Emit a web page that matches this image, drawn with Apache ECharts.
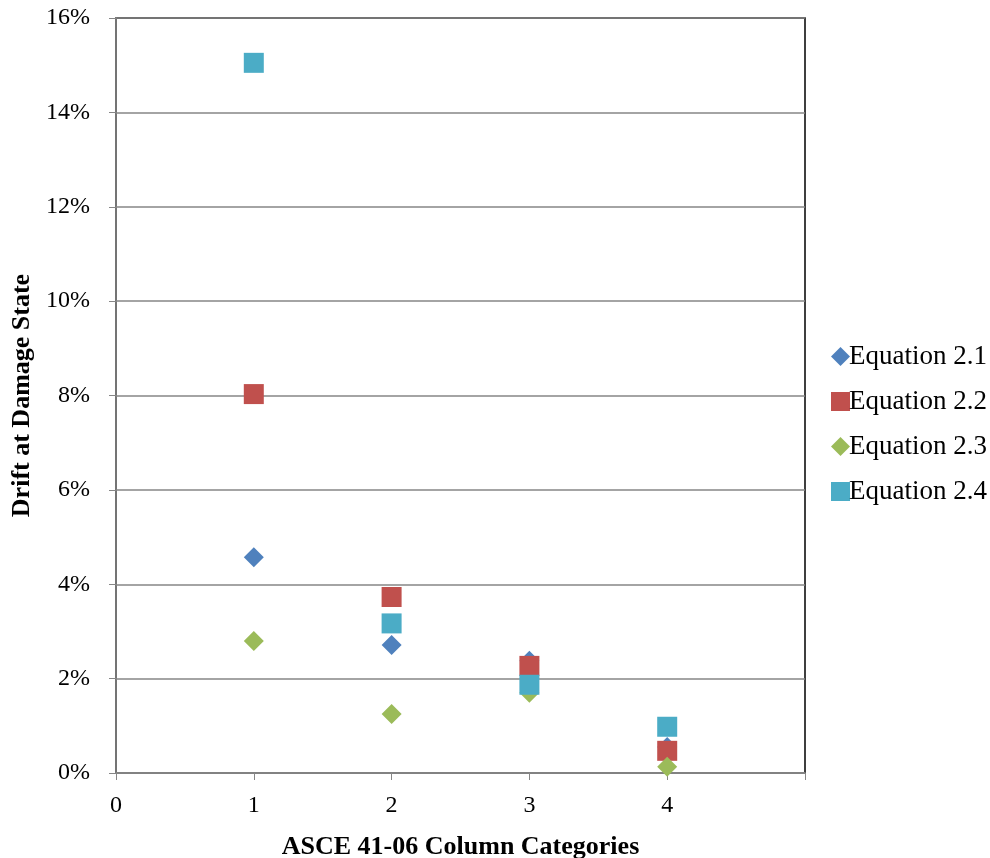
<!DOCTYPE html>
<html><head><meta charset="utf-8">
<script src="https://cdn.jsdelivr.net/npm/echarts@6/dist/echarts.min.js"></script>
<style>html,body{margin:0;padding:0;background:#fff}#c{width:990px;height:858px}</style>
</head><body><div id="c"></div>
<script>
const categories = [1, 2, 3, 4];
const eq21 = [4.57, 2.71, 2.38, 0.55];
const eq22 = [8.03, 3.73, 2.27, 0.47];
const eq23 = [2.80, 1.25, 1.70, 0.13];
const eq24 = [15.05, 3.17, 1.87, 0.98];
const seriesNames = ['Equation 2.1', 'Equation 2.2', 'Equation 2.3', 'Equation 2.4'];
const colors = ['#4F81BD', '#C0504D', '#9BBB59', '#4BACC6'];
const symbols = ['diamond', 'rect', 'diamond', 'rect'];
const allData = [eq21, eq22, eq23, eq24];

const font = '"Liberation Serif", "Times New Roman", serif';
const chart = echarts.init(document.getElementById('c'));
chart.setOption({
  animation: false,
  textStyle: { fontFamily: font },
  grid: { left: 116, right: 185, top: 18, bottom: 85, containLabel: false, outerBoundsMode: 'none',
    show: true, borderColor: '#000', borderWidth: 1.5 },
  legend: {
    orient: 'vertical', left: 826, top: 338, itemGap: 18, itemWidth: 19, itemHeight: 19,
    textStyle: { fontFamily: font, fontSize: 27, color: '#000', padding: [0, 0, 0, -6] },
    data: seriesNames.map((n, i) => ({ name: n, icon: symbols[i] === 'rect' ? 'rect' : 'diamond' }))
  },
  xAxis: {
    type: 'value', min: 0, max: 5, interval: 1,
    name: 'ASCE 41-06 Column Categories', nameLocation: 'middle', nameGap: 61,
    nameTextStyle: { fontFamily: font, fontSize: 26, fontWeight: 'bold', color: '#000' },
    axisLine: { show: true, lineStyle: { color: '#868686', width: 1.5 } },
    axisTick: { show: true, length: 7, lineStyle: { color: '#868686' } },
    axisLabel: { fontFamily: font, fontSize: 24, color: '#000', margin: 21,
      formatter: v => (v === 5 ? '' : String(v)) },
    splitLine: { show: false }
  },
  yAxis: {
    type: 'value', min: 0, max: 16, interval: 2,
    name: 'Drift at Damage State', nameLocation: 'middle', nameGap: 81,
    nameTextStyle: { fontFamily: font, fontSize: 26, fontWeight: 'bold', color: '#000' },
    axisLine: { show: true, lineStyle: { color: '#868686', width: 1.5 } },
    axisTick: { show: true, length: 7, lineStyle: { color: '#868686' } },
    axisLabel: { fontFamily: font, fontSize: 24, color: '#000', margin: 26, formatter: v => v + '%' },
    splitLine: { show: true, lineStyle: { color: '#868686', width: 1.5 } }
  },
  series: allData.map((d, i) => ({
    name: seriesNames[i], type: 'scatter',
    symbol: symbols[i], symbolSize: 20,
    itemStyle: { color: colors[i], opacity: 1 },
    data: categories.map((c, j) => [c, d[j]]),
    z: 2 + i
  }))
});
</script></body></html>
